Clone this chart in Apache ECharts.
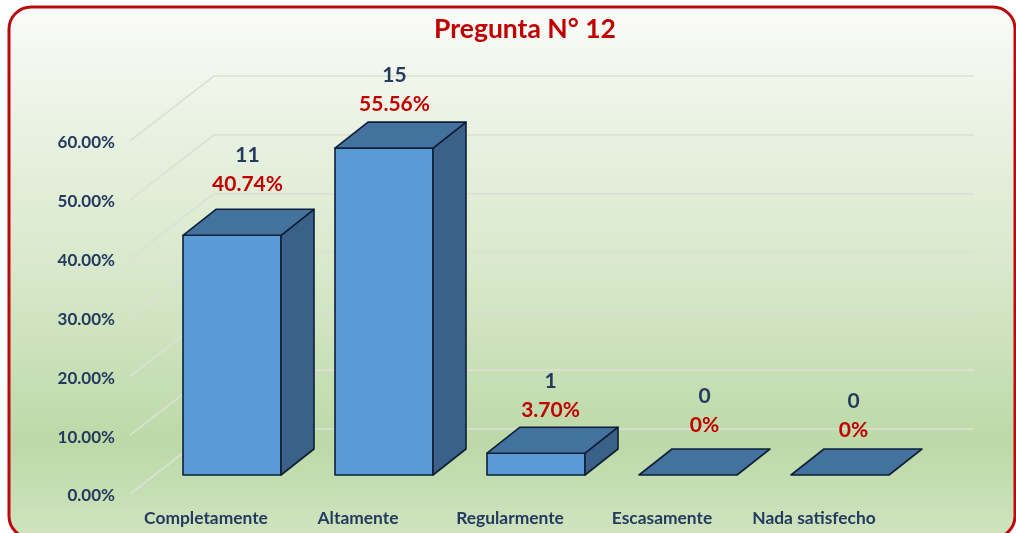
<!DOCTYPE html>
<html>
<head>
<meta charset="utf-8">
<title>Pregunta N° 12</title>
<script src="https://cdn.jsdelivr.net/npm/echarts@6/dist/echarts.min.js"></script>
<style>
  html, body { margin: 0; padding: 0; background: #fff; }
  #chart { width: 1016px; height: 533px; }
</style>
</head>
<body>
<div id="chart"></div>
<script>
var categories = ["Completamente", "Altamente", "Regularmente", "Escasamente", "Nada satisfecho"];
var counts = [11, 15, 1, 0, 0];
var percents = [40.74, 55.56, 3.7, 0, 0];
var axisTicks = [0, 10, 20, 30, 40, 50, 60];

// fake 3D: how far the wall and the bars go back, in px
var WALL_DX = 84, WALL_DY = -65;
var GAP_DX = 26, GAP_DY = -19;
var BAR_DX = 33, BAR_DY = -26;
var BAR_W = 98;
// nudges for the two labels above each bar [dx, dy]
var labelNudge = [[-1, -7], [-6, 0], [-2, 1], [0, -6], [-3, -1]];

var FONT = "Lato";
var NAVY = "#243a5e";
var RED = "#c00000";
var EDGE = "#0e1f38";

function pctLabel(p) {
  return p === 0 ? "0%" : p.toFixed(2) + "%";
}

function renderWall(params, api) {
  var rect = params.coordSys;
  var p = api.coord([0, api.value(0)]);
  var left = rect.x;
  return {
    type: "polyline",
    silent: true,
    shape: {
      points: [
        [left, p[1]],
        [left + WALL_DX, p[1] + WALL_DY],
        [left + rect.width + WALL_DX, p[1] + WALL_DY]
      ]
    },
    style: { fill: null, stroke: "#dbe1d6", lineWidth: 1.6 }
  };
}

function renderBar(params, api) {
  var i = api.value(0);
  var base = api.coord([i, 0]);
  var top = api.coord([i, api.value(1)]);
  var x0 = base[0] + GAP_DX - BAR_W / 2;
  var x1 = x0 + BAR_W;
  var y0 = base[1] + GAP_DY;
  var y1 = top[1] + GAP_DY;
  var edge = { stroke: EDGE, lineWidth: 1.6, lineJoin: "round" };
  var kids = [];

  if (api.value(1) > 0) {
    kids.push({
      type: "polygon",
      shape: { points: [[x0, y0], [x1, y0], [x1, y1], [x0, y1]] },
      style: Object.assign({ fill: "#5b9bd5" }, edge)
    });
    kids.push({
      type: "polygon",
      shape: { points: [[x1, y0], [x1 + BAR_DX, y0 + BAR_DY], [x1 + BAR_DX, y1 + BAR_DY], [x1, y1]] },
      style: Object.assign({ fill: "#3a6187" }, edge)
    });
  }
  kids.push({
    type: "polygon",
    shape: { points: [[x0, y1], [x1, y1], [x1 + BAR_DX, y1 + BAR_DY], [x0 + BAR_DX, y1 + BAR_DY]] },
    style: Object.assign({ fill: "#44729f" }, edge)
  });

  var cx = (x0 + x1 + BAR_DX) / 2 + labelNudge[i][0];
  var ty = y1 + BAR_DY + labelNudge[i][1];
  kids.push({
    type: "text",
    style: {
      x: cx, y: ty - 18, text: pctLabel(percents[i]), fill: RED,
      font: "bold 21px " + FONT, align: "center", verticalAlign: "middle"
    }
  });
  kids.push({
    type: "text",
    style: {
      x: cx, y: ty - 47, text: String(counts[i]), fill: NAVY,
      font: "bold 21px " + FONT, align: "center", verticalAlign: "middle"
    }
  });
  return { type: "group", children: kids };
}

var myChart = echarts.init(document.getElementById("chart"));

var option = {
  animation: false,
  title: {
    text: "Pregunta N° 12",
    left: 520,
    top: 11,
    textAlign: "center",
    textStyle: { color: RED, fontFamily: FONT, fontWeight: "bold", fontSize: 26.5 }
  },
  graphic: [{
    type: "rect",
    z: -10,
    silent: true,
    shape: { x: 9, y: 7, width: 1006, height: 531, r: 22 },
    style: {
      stroke: "#bb0a0f",
      lineWidth: 3,
      fill: {
        type: "linear", x: 0, y: 0, x2: 0, y2: 1,
        colorStops: [
          { offset: 0, color: "#fbfbf9" },
          { offset: 0.25, color: "#e8f1e0" },
          { offset: 0.5, color: "#d8e8cb" },
          { offset: 0.82, color: "#bcd9a7" },
          { offset: 1, color: "#d0e4c0" }
        ]
      }
    }
  }],
  grid: { left: 130, right: 126, top: 141, bottom: 39 },
  xAxis: {
    type: "category",
    data: categories,
    axisLine: { show: false },
    axisTick: { show: false },
    axisLabel: {
      color: NAVY, fontFamily: FONT, fontWeight: "bold", fontSize: 17.4,
      margin: 16, interval: 0
    }
  },
  yAxis: {
    type: "value",
    min: 0,
    max: 60,
    interval: 10,
    axisLine: { show: false },
    axisTick: { show: false },
    splitLine: { show: false },
    axisLabel: {
      margin: 15,
      formatter: function (v) { return "{t|" + v.toFixed(2) + "%}"; },
      rich: {
        t: {
          color: NAVY, fontFamily: FONT, fontWeight: "bold", fontSize: 17,
          padding: [4, 0, 0, 0]
        }
      }
    }
  },
  series: [
    {
      type: "custom",
      clip: false,
      silent: true,
      z: 1,
      renderItem: renderWall,
      encode: { y: 0 },
      data: axisTicks
    },
    {
      type: "custom",
      clip: false,
      silent: true,
      z: 2,
      renderItem: renderBar,
      encode: { x: 0, y: 1 },
      data: percents.map(function (p, i) { return [i, p]; })
    }
  ]
};

myChart.setOption(option);
</script>
</body>
</html>
